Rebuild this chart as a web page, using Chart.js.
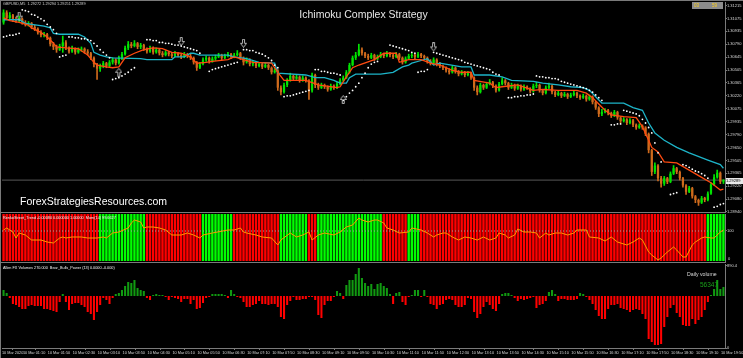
<!DOCTYPE html>
<html>
<head>
<meta charset="utf-8">
<script src="https://cdn.jsdelivr.net/npm/chart.js@4.4.1/dist/chart.umd.min.js"></script>
<style>
  html, body { margin: 0; padding: 0; background: #000; }
  #wrap { position: relative; width: 743px; height: 358px; background: #000; overflow: hidden;
          font-family: "Liberation Sans", Arial, sans-serif; }
  .pane { position: absolute; left: 0; width: 743px; }
  .txt  { position: absolute; white-space: nowrap; }
  .ln   { position: absolute; background: #7a7a7a; }
</style>
</head>
<body>
<div id="wrap">
  <div class="pane" style="top:0;height:213px"><canvas id="cMain"></canvas></div>
  <div class="pane" style="top:213px;height:49px"><canvas id="cTrend"></canvas></div>
  <div class="pane" style="top:263px;height:95px"><canvas id="cPower"></canvas></div>

  <!-- frame lines -->
  <div class="ln" style="left:0;top:0;width:743px;height:1px"></div>
  <div class="ln" style="left:0;top:0;width:1px;height:358px"></div>
  <div class="ln" style="left:0;top:212px;width:726px;height:1px"></div>
  <div class="ln" style="left:0;top:262px;width:726px;height:1px"></div>

  <div class="txt" style="left:3px;top:2px;font-size:3.8px;line-height:5px;color:#d0d0d0">GBPUSD,M5&nbsp;&nbsp;1.29272 1.29294 1.29251 1.29289</div>
  <div class="txt" style="left:0;width:727px;top:8px;text-align:center;font-size:10.5px;line-height:12px;color:#e6e6e6">Ichimoku Complex Strategy</div>
  <div class="txt" style="left:20px;top:195px;font-size:10.5px;line-height:12px;color:#ffffff">ForexStrategiesResources.com</div>
  <div class="txt" style="left:692px;top:2px;width:31px;height:7px;background:#8c8c8c"></div>
  <div class="txt" style="left:694px;top:2px;font-size:4.5px;line-height:7px;color:#ffd21e">03</div>
  <div class="txt" style="left:712px;top:2px;font-size:4.5px;line-height:7px;color:#ffd21e">59</div>
  <div class="txt" style="left:726px;top:178px;width:17px;height:6px;background:#e8e8e8;color:#000;font-size:4px;line-height:6px">1.29289</div>

  <div class="txt" style="left:3px;top:216px;font-size:3.8px;line-height:5px;color:#f0f0f0">RenkoStreet_Trend -0.00080 0.000000 1.00000&nbsp;&nbsp;Mom(14) 99.6627</div>
  <div class="txt" style="left:728px;top:256px;font-size:4px;line-height:5px;color:#d8d8d8">0</div>
  <div class="txt" style="left:3px;top:266px;font-size:3.8px;line-height:5px;color:#f0f0f0">Allen FX Volumes 270.000&nbsp;&nbsp;Bear_Bulls_Power (13) 0.0000 -0.000)</div>
  <div class="txt" style="left:687px;top:271px;font-size:5.2px;line-height:7px;color:#d8d8d8">Daily volume</div>
  <div class="txt" style="left:700px;top:280px;font-size:6.5px;line-height:9px;color:#1aa01a">56347</div>
</div>

<script>
// ── data ──────────────────────────────────────────────────────────────────
// GBPUSD M5, one entry per bar
const opens = [
  1.3103,1.3114,1.3108,1.3111,1.3107,1.3105,1.3107,1.3103,1.3101,1.3102,
  1.3098,1.3096,1.3092,1.3089,1.3090,1.3086,1.3079,1.3076,1.3073,1.3077,
  1.3081,1.3075,1.3071,1.3074,1.3070,1.3073,1.3074,1.3071,1.3069,1.3064,
  1.3057,1.3052,1.3055,1.3058,1.3055,1.3059,1.3062,1.3058,1.3064,1.3068,
  1.3075,1.3079,1.3077,1.3080,1.3076,1.3078,1.3074,1.3071,1.3075,1.3070,
  1.3073,1.3069,1.3067,1.3070,1.3068,1.3066,1.3069,1.3067,1.3065,1.3068,
  1.3066,1.3064,1.3059,1.3053,1.3057,1.3062,1.3064,1.3060,1.3063,1.3065,
  1.3067,1.3064,1.3066,1.3068,1.3065,1.3067,1.3069,1.3064,1.3059,1.3062,
  1.3057,1.3058,1.3055,1.3057,1.3054,1.3056,1.3053,1.3048,1.3050,1.3031,
  1.3026,1.3034,1.3039,1.3044,1.3041,1.3043,1.3039,1.3042,1.3039,1.3028,
  1.3045,1.3034,1.3031,1.3034,1.3032,1.3029,1.3033,1.3031,1.3035,1.3039,
  1.3042,1.3048,1.3056,1.3064,1.3067,1.3073,1.3069,1.3066,1.3064,1.3067,
  1.3063,1.3065,1.3068,1.3066,1.3069,1.3067,1.3065,1.3068,1.3064,1.3059,
  1.3063,1.3066,1.3067,1.3065,1.3068,1.3066,1.3064,1.3060,1.3058,1.3062,
  1.3057,1.3055,1.3053,1.3050,1.3048,1.3053,1.3049,1.3046,1.3048,1.3045,
  1.3047,1.3042,1.3031,1.3026,1.3034,1.3031,1.3035,1.3037,1.3033,1.3028,
  1.3035,1.3039,1.3036,1.3031,1.3034,1.3030,1.3033,1.3029,1.3032,1.3030,
  1.3027,1.3033,1.3034,1.3028,1.3025,1.3031,1.3033,1.3026,1.3023,1.3025,
  1.3022,1.3024,1.3021,1.3023,1.3025,1.3022,1.3020,1.3022,1.3018,1.3021,
  1.3015,1.3009,1.3002,1.3004,1.3006,1.3003,1.3000,1.3004,1.2998,1.2994,
  1.2996,1.2992,1.2995,1.2990,1.2987,1.2989,1.2987,1.2980,1.2962,1.2938,
  1.2945,1.2931,1.2925,1.2931,1.2927,1.2936,1.2942,1.2938,1.2931,1.2923,
  1.2916,1.2920,1.2911,1.2907,1.2904,1.2909,1.2907,1.2914,1.2924,1.2932,
  1.2937,1.29272
];
const highs = [
  1.3117,1.3116,1.3114,1.3112,1.3109,1.3110,1.3108,1.3105,1.3104,1.3103,
  1.3100,1.3097,1.3094,1.3092,1.3091,1.3087,1.3081,1.3078,1.3079,1.3088,
  1.3083,1.3076,1.3077,1.3075,1.3075,1.3076,1.3075,1.3073,1.3070,1.3065,
  1.3058,1.3057,1.3060,1.3059,1.3061,1.3064,1.3063,1.3066,1.3070,1.3077,
  1.3082,1.3081,1.3083,1.3081,1.3080,1.3079,1.3075,1.3077,1.3076,1.3075,
  1.3074,1.3071,1.3072,1.3071,1.3070,1.3071,1.3070,1.3068,1.3070,1.3069,
  1.3068,1.3065,1.3060,1.3059,1.3064,1.3066,1.3065,1.3065,1.3067,1.3069,
  1.3068,1.3068,1.3070,1.3069,1.3069,1.3072,1.3070,1.3065,1.3064,1.3063,
  1.3061,1.3059,1.3059,1.3058,1.3058,1.3057,1.3054,1.3052,1.3051,1.3033,
  1.3036,1.3041,1.3047,1.3045,1.3045,1.3044,1.3044,1.3043,1.3040,1.3047,
  1.3046,1.3036,1.3036,1.3035,1.3033,1.3035,1.3034,1.3037,1.3041,1.3044,
  1.3050,1.3058,1.3066,1.3070,1.3079,1.3075,1.3070,1.3068,1.3069,1.3068,
  1.3067,1.3070,1.3069,1.3071,1.3070,1.3068,1.3070,1.3069,1.3065,1.3065,
  1.3068,1.3069,1.3068,1.3070,1.3069,1.3067,1.3065,1.3062,1.3064,1.3063,
  1.3059,1.3056,1.3054,1.3052,1.3055,1.3054,1.3050,1.3050,1.3049,1.3049,
  1.3048,1.3043,1.3033,1.3036,1.3035,1.3037,1.3040,1.3038,1.3034,1.3037,
  1.3042,1.3040,1.3037,1.3036,1.3035,1.3035,1.3034,1.3034,1.3033,1.3031,
  1.3035,1.3037,1.3035,1.3029,1.3033,1.3036,1.3034,1.3027,1.3027,1.3026,
  1.3026,1.3025,1.3025,1.3027,1.3026,1.3023,1.3024,1.3023,1.3023,1.3022,
  1.3016,1.3010,1.3007,1.3008,1.3007,1.3004,1.3006,1.3005,1.2999,1.2998,
  1.2997,1.2997,1.2996,1.2991,1.2991,1.2990,1.2988,1.2981,1.2963,1.2948,
  1.2946,1.2933,1.2933,1.2932,1.2938,1.2945,1.2943,1.2939,1.2932,1.2924,
  1.2922,1.2921,1.2912,1.2908,1.2911,1.2910,1.2916,1.2926,1.2935,1.2940,
  1.2938,1.29294
];
const lows = [
  1.3101,1.3106,1.3107,1.3104,1.3103,1.3104,1.3101,1.3099,1.3099,1.3096,
  1.3094,1.3090,1.3087,1.3087,1.3084,1.3077,1.3073,1.3070,1.3072,1.3070,
  1.3073,1.3069,1.3070,1.3068,1.3069,1.3071,1.3069,1.3067,1.3062,1.3054,
  1.3040,1.3049,1.3053,1.3053,1.3054,1.3057,1.3056,1.3057,1.3062,1.3067,
  1.3073,1.3075,1.3076,1.3074,1.3074,1.3072,1.3069,1.3070,1.3068,1.3069,
  1.3067,1.3065,1.3066,1.3066,1.3064,1.3065,1.3065,1.3063,1.3064,1.3064,
  1.3062,1.3057,1.3050,1.3052,1.3056,1.3060,1.3058,1.3059,1.3061,1.3064,
  1.3062,1.3063,1.3065,1.3063,1.3064,1.3066,1.3062,1.3056,1.3058,1.3055,
  1.3055,1.3053,1.3054,1.3052,1.3053,1.3051,1.3046,1.3047,1.3028,1.3023,
  1.3025,1.3032,1.3038,1.3039,1.3040,1.3037,1.3038,1.3037,1.3018,1.3026,
  1.3031,1.3029,1.3030,1.3030,1.3027,1.3028,1.3029,1.3030,1.3034,1.3038,
  1.3041,1.3047,1.3055,1.3062,1.3066,1.3067,1.3064,1.3062,1.3063,1.3061,
  1.3062,1.3064,1.3064,1.3065,1.3065,1.3063,1.3064,1.3062,1.3057,1.3058,
  1.3062,1.3064,1.3063,1.3064,1.3064,1.3062,1.3058,1.3056,1.3057,1.3055,
  1.3053,1.3051,1.3048,1.3046,1.3047,1.3047,1.3044,1.3045,1.3043,1.3044,
  1.3040,1.3028,1.3023,1.3025,1.3029,1.3030,1.3034,1.3031,1.3026,1.3027,
  1.3034,1.3034,1.3029,1.3030,1.3028,1.3029,1.3027,1.3028,1.3029,1.3025,
  1.3026,1.3031,1.3026,1.3023,1.3024,1.3030,1.3024,1.3021,1.3022,1.3020,
  1.3021,1.3019,1.3020,1.3022,1.3020,1.3018,1.3019,1.3016,1.3017,1.3013,
  1.3007,1.2999,1.3000,1.3003,1.3001,1.2998,1.2999,1.2996,1.2992,1.2993,
  1.2990,1.2991,1.2988,1.2985,1.2986,1.2985,1.2978,1.2959,1.2934,1.2936,
  1.2928,1.2921,1.2923,1.2925,1.2926,1.2935,1.2936,1.2929,1.2921,1.2913,
  1.2915,1.2909,1.2904,1.2901,1.2903,1.2905,1.2906,1.2913,1.2923,1.2931,
  1.2925,1.29251
];
const closes = [
  1.3114,1.3108,1.3111,1.3107,1.3105,1.3107,1.3103,1.3101,1.3102,1.3098,
  1.3096,1.3092,1.3089,1.3090,1.3086,1.3079,1.3076,1.3073,1.3077,1.3081,
  1.3075,1.3071,1.3074,1.3070,1.3073,1.3074,1.3071,1.3069,1.3064,1.3057,
  1.3052,1.3055,1.3058,1.3055,1.3059,1.3062,1.3058,1.3064,1.3068,1.3075,
  1.3079,1.3077,1.3080,1.3076,1.3078,1.3074,1.3071,1.3075,1.3070,1.3073,
  1.3069,1.3067,1.3070,1.3068,1.3066,1.3069,1.3067,1.3065,1.3068,1.3066,
  1.3064,1.3059,1.3053,1.3057,1.3062,1.3064,1.3060,1.3063,1.3065,1.3067,
  1.3064,1.3066,1.3068,1.3065,1.3067,1.3069,1.3064,1.3059,1.3062,1.3057,
  1.3058,1.3055,1.3057,1.3054,1.3056,1.3053,1.3048,1.3050,1.3031,1.3026,
  1.3034,1.3039,1.3044,1.3041,1.3043,1.3039,1.3042,1.3039,1.3028,1.3045,
  1.3034,1.3031,1.3034,1.3032,1.3029,1.3033,1.3031,1.3035,1.3039,1.3042,
  1.3048,1.3056,1.3064,1.3067,1.3073,1.3069,1.3066,1.3064,1.3067,1.3063,
  1.3065,1.3068,1.3066,1.3069,1.3067,1.3065,1.3068,1.3064,1.3059,1.3063,
  1.3066,1.3067,1.3065,1.3068,1.3066,1.3064,1.3060,1.3058,1.3062,1.3057,
  1.3055,1.3053,1.3050,1.3048,1.3053,1.3049,1.3046,1.3048,1.3045,1.3047,
  1.3042,1.3031,1.3026,1.3034,1.3031,1.3035,1.3037,1.3033,1.3028,1.3035,
  1.3039,1.3036,1.3031,1.3034,1.3030,1.3033,1.3029,1.3032,1.3030,1.3027,
  1.3033,1.3034,1.3028,1.3025,1.3031,1.3033,1.3026,1.3023,1.3025,1.3022,
  1.3024,1.3021,1.3023,1.3025,1.3022,1.3020,1.3022,1.3018,1.3021,1.3015,
  1.3009,1.3002,1.3004,1.3006,1.3003,1.3000,1.3004,1.2998,1.2994,1.2996,
  1.2992,1.2995,1.2990,1.2987,1.2989,1.2987,1.2980,1.2962,1.2938,1.2945,
  1.2931,1.2925,1.2931,1.2927,1.2936,1.2942,1.2938,1.2931,1.2923,1.2916,
  1.2920,1.2911,1.2907,1.2904,1.2909,1.2907,1.2914,1.2924,1.2932,1.2937,
  1.2927,1.29289
];

// Ichimoku lines, read at their turning points: [bar, price]
const tenkan = [
  [0,1.3108],[2,1.3105],[5,1.3103],[8,1.3100],[9,1.3097],[12,1.3092],[14,1.3087],[16,1.3080],
  [17,1.3076],[20,1.3075],[24,1.3074],[27,1.3067],[29,1.3059],[30,1.3056],[33,1.3054],[35,1.3053],
  [37,1.3054],[39,1.3064],[42,1.3069],[45,1.3073],[48,1.3075],[51,1.3074],[54,1.3070],[57,1.3069],
  [60,1.3065],[62,1.3058],[65,1.3059],[67,1.3060],[72,1.3062],[74,1.3065],[77,1.3062],[80,1.3059],
  [86,1.3058],[88,1.3048],[90,1.3039],[97,1.3039],[101,1.3034],[107,1.3031],[108,1.3032],[110,1.3043],
  [112,1.3053],[114,1.3056],[119,1.3062],[122,1.3069],[126,1.3069],[127,1.3059],[130,1.3062],[134,1.3062],
  [137,1.3058],[140,1.3056],[144,1.3050],[147,1.3048],[150,1.3048],[151,1.3039],[156,1.3036],[158,1.3031],
  [160,1.3032],[165,1.3034],[170,1.3028],[173,1.3029],[178,1.3028],[184,1.3028],[187,1.3025],[189,1.3020],
  [191,1.3013],[193,1.3006],[195,1.3001],[199,1.2999],[203,1.2998],[205,1.2988],[207,1.2973],[208,1.2965],
  [210,1.2960],[212,1.2949],[216,1.2948],[220,1.2940],[224,1.2932],[227,1.2926],[230,1.2918],[231,1.2919]
];
const kijun = [
  [0,1.3106],[5,1.3106],[7,1.3102],[9,1.3101],[13,1.3099],[15,1.3097],[16,1.3091],[18,1.3090],
  [24,1.3090],[26,1.3087],[28,1.3080],[29,1.3070],[31,1.3067],[33,1.3065],[35,1.3064],[44,1.3063],
  [46,1.3062],[54,1.3062],[55,1.3065],[58,1.3065],[60,1.3069],[61,1.3069],[63,1.3067],[72,1.3067],
  [74,1.3065],[78,1.3063],[82,1.3059],[87,1.3058],[88,1.3047],[97,1.3045],[100,1.3042],[103,1.3042],
  [106,1.3039],[108,1.3036],[110,1.3036],[111,1.3042],[113,1.3046],[121,1.3046],[125,1.3048],[128,1.3054],
  [130,1.3056],[131,1.3058],[134,1.3061],[136,1.3063],[138,1.3056],[140,1.3058],[147,1.3054],[150,1.3054],
  [151,1.3045],[156,1.3045],[160,1.3043],[163,1.3039],[170,1.3038],[173,1.3036],[178,1.3034],[182,1.3032],
  [186,1.3031],[188,1.3028],[190,1.3021],[192,1.3014],[199,1.3014],[202,1.3009],[205,1.3006],[207,1.2992],
  [209,1.2981],[212,1.2973],[216,1.2965],[220,1.2959],[226,1.2951],[230,1.2946],[231,1.2942]
];

// Parabolic SAR dots: [bar, price]
const psar = [
  [0,1.3087],[1,1.3088],[2,1.3089],[3,1.3089],[4,1.3090],[5,1.3091],
  [6,1.3117],[7,1.3116],[8,1.3115],[9,1.3112],[10,1.3111],[11,1.3109],[12,1.3107],[13,1.3105],
  [14,1.3101],[15,1.3098],[16,1.3095],[17,1.3091],
  [18,1.3065],[19,1.3066],[20,1.3067],
  [21,1.3087],[22,1.3087],[23,1.3086],[24,1.3086],[25,1.3085],[26,1.3085],[27,1.3084],[28,1.3083],
  [29,1.3080],[30,1.3077],[31,1.3073],[32,1.3070],[33,1.3067],[34,1.3064],
  [35,1.3040],[36,1.3041],[37,1.3042],[38,1.3044],[39,1.3046],[40,1.3048],[41,1.3051],[42,1.3053],
  [46,1.3084],[47,1.3084],[48,1.3083],[49,1.3083],[50,1.3081],[51,1.3081],[52,1.3080],[53,1.3080],
  [54,1.3079],[55,1.3078],[56,1.3078],[57,1.3077],[58,1.3076],[59,1.3075],[60,1.3074],[61,1.3073],
  [62,1.3072],[63,1.3069],
  [66,1.3049],[67,1.3051],[68,1.3052],[69,1.3053],[70,1.3054],[71,1.3055],[72,1.3056],[73,1.3057],
  [74,1.3058],[75,1.3059],
  [77,1.3073],[78,1.3073],[79,1.3072],[80,1.3072],[81,1.3070],[82,1.3069],[83,1.3068],[84,1.3066],
  [85,1.3064],[86,1.3061],[87,1.3056],[88,1.3053],
  [90,1.3021],[91,1.3022],[92,1.3022],[93,1.3023],[94,1.3024],[95,1.3025],[96,1.3026],[97,1.3027],[98,1.3028],
  [100,1.3051],[101,1.3051],[102,1.3049],[103,1.3049],[104,1.3048],[105,1.3047],[106,1.3047],[107,1.3046],[108,1.3045],
  [109,1.3017],[110,1.3021],[111,1.3025],[112,1.3028],[113,1.3032],[114,1.3036],[115,1.3042],[116,1.3047],
  [117,1.3053],[118,1.3057],[119,1.3059],[120,1.3060],
  [124,1.3078],[125,1.3077],[126,1.3076],[127,1.3075],[128,1.3074],[129,1.3073],[130,1.3072],[131,1.3070],[132,1.3069],
  [133,1.3048],[134,1.3049],[135,1.3049],[136,1.3051],
  [138,1.3070],[139,1.3069],[140,1.3068],[141,1.3067],[142,1.3066],[143,1.3065],[144,1.3064],[145,1.3063],
  [146,1.3062],[147,1.3061],[148,1.3059],[149,1.3058],[150,1.3057],[151,1.3056],[152,1.3055],[153,1.3054],
  [154,1.3053],[155,1.3052],[156,1.3051],[157,1.3048],[158,1.3046],[159,1.3045],
  [162,1.3020],[163,1.3020],[164,1.3021],[165,1.3021],[166,1.3022],[167,1.3022],[168,1.3023],[169,1.3023],[170,1.3024],
  [171,1.3044],[172,1.3043],[173,1.3043],[174,1.3042],[175,1.3042],[176,1.3041],[177,1.3041],[178,1.3040],
  [179,1.3038],[180,1.3037],[181,1.3036],[182,1.3035],[183,1.3034],[184,1.3033],[185,1.3032],[186,1.3031],
  [187,1.3030],[188,1.3028],[189,1.3026],[190,1.3023],[191,1.3020],[192,1.3017],
  [195,1.2990],[196,1.2990],[197,1.2991],[198,1.2991],
  [199,1.3006],[200,1.3005],[201,1.3004],[202,1.3003],[203,1.3002],[204,1.3000],[205,1.2996],[206,1.2992],
  [207,1.2987],[208,1.2981],[209,1.2970],[210,1.2959],[211,1.2949],
  [214,1.2913],[215,1.2914],[216,1.2915],
  [218,1.2946],[219,1.2945],[220,1.2943],[221,1.2941],[222,1.2939],[223,1.2938],[224,1.2936],[225,1.2934],[226,1.2931],
  [228,1.2899],[229,1.2900],[230,1.2902],[231,1.2903]
];

// signal arrows: [bar, price]
const arrowsDown = [[5,1.3110],[57,1.3082],[77,1.3080],[138,1.3076]];
const arrowsUp   = [[37,1.3048],[109,1.3018]];

// RenkoStreet_Trend runs: [bars, direction]
const trendRuns = [
  [31,'down'],[15,'up'],[18,'down'],[10,'up'],[15,'down'],[9,'up'],[3,'down'],
  [21,'up'],[8,'down'],[4,'up'],[92,'down'],[6,'up']
];
// Mom(14): [bar, value]
const momentum = [
  [0,100.05],[1,100.15],[3,99.95],[4,99.65],[5,99.9],[7,99.8],[9,99.55],[12,99.55],[14,99.45],
  [16,99.4],[18,99.65],[19,99.7],[20,99.65],[22,99.7],[25,99.7],[27,99.65],[30,99.65],[32,99.7],
  [33,99.65],[35,99.9],[37,99.95],[40,100.15],[41,100.4],[42,100.55],[44,100.45],[45,100.15],[46,100.2],
  [48,100.2],[50,100.15],[52,100.05],[54,99.8],[57,99.8],[59,99.9],[61,99.8],[63,99.65],[64,99.8],
  [67,99.9],[72,100.05],[74,100.05],[76,100.15],[77,99.95],[78,99.9],[81,99.8],[83,99.7],[86,99.65],
  [88,99.3],[89,99.55],[92,99.9],[94,99.7],[96,99.8],[98,99.95],[99,99.55],[101,99.8],[103,99.9],
  [106,99.8],[108,99.95],[110,100.2],[112,100.3],[114,100.65],[115,100.55],[117,100.45],[119,100.55],
  [120,100.55],[122,100.4],[123,100.15],[125,100.05],[127,99.9],[130,99.95],[131,100.15],[134,100.05],
  [136,99.9],[138,99.7],[139,99.8],[141,99.9],[142,99.9],[144,99.7],[146,99.55],[148,99.7],[150,99.65],
  [152,99.55],[154,99.7],[156,99.55],[158,99.65],[159,99.9],[161,99.8],[162,99.65],[164,99.8],
  [165,100.1],[167,99.95],[169,99.95],[171,99.9],[172,99.65],[174,99.9],[175,99.8],[177,99.9],
  [179,99.9],[181,99.8],[183,99.9],[184,100.05],[187,100.05],[188,99.7],[191,99.65],[193,99.5],
  [195,99.7],[197,99.45],[200,99.3],[202,99.45],[204,99.65],[205,99.55],[207,98.95],[208,98.8],
  [210,98.55],[211,98.65],[213,98.95],[215,99.2],[216,99.05],[218,98.7],[219,98.7],[221,99.3],
  [222,99.45],[224,99.65],[225,99.7],[227,99.65],[228,99.65],[230,99.95],[231,100.05]
];

// Bear_Bulls_Power histogram, one entry per bar
const powerHist = [
  6,3,-2,-8,-9,-11,-13,-13,-10,-9, -10,-10,-10,-13,-13,-14,-15,-16,-6,2,
  -6,-14,-8,-7,-7,-9,-11,-16,-18,-24, -16,-9,-2,-4,-8,-2,2,3,6,10,
  14,13,16,8,6,5,-2,-4,1,2, 1,1,-1,-4,-1,-2,-3,-6,-3,-3,
  -8,-4,-13,-12,-7,-2,-1,2,2,2, 2,1,-2,6,2,-1,-2,-6,-11,-11,
  -9,-8,-5,-8,-8,-9,-8,-8,-11,-21, -23,-9,-5,-1,-4,-4,-3,-3,-1,-1,
  -4,-19,-22,-9,-5,-5,-1,5,3,-3, 11,16,16,22,28,18,13,10,12,7,
  12,13,10,8,2,-8,3,4,-6,-9, -1,1,6,6,-1,6,-1,-8,-9,-13,
  -9,-8,-4,-3,-4,-9,-11,-11,-9,-2, -3,-16,-22,-18,-11,-6,-9,
  -13,-15,-8,2,3,3,1,-2,-5,-3, -4,-3,-2,-1,-12,-9,-8,-5,4,6,
  2,-5,-3,-3,-4,-4,-4,-3,3,2, -1,-4,-8,-14,-20,-23,-23,-13,-9,-9,
  -8,-12,-13,-14,-16,-14,-13,-14,-18,-23, -43,-46,-49,-49,-48,-31,-21,-12,-9,-17,
  -21,-29,-30,-30,-23,-28,-24,-21,-14,-6, 1,7,16,7,9
];

// axis labels
const priceTicks = [1.31215,1.31075,1.30935,1.30790,1.30645,1.30505,1.30365,1.30220,1.30075,
                    1.29935,1.29790,1.29650,1.29505,1.29365,1.29220,1.29080,1.28940];
const timeLabels = ['10 Mar 2020','10 Mar 01:10','10 Mar 01:50','10 Mar 02:30','10 Mar 03:10','10 Mar 03:50',
  '10 Mar 04:30','10 Mar 05:10','10 Mar 05:50','10 Mar 06:30','10 Mar 07:10','10 Mar 07:50','10 Mar 08:30',
  '10 Mar 09:10','10 Mar 09:50','10 Mar 10:30','10 Mar 11:10','10 Mar 11:50','10 Mar 12:30','10 Mar 13:10',
  '10 Mar 13:50','10 Mar 14:30','10 Mar 15:10','10 Mar 15:50','10 Mar 16:30','10 Mar 17:10','10 Mar 17:50',
  '10 Mar 18:30','10 Mar 19:10','10 Mar 19:50'];

// ── look ──────────────────────────────────────────────────────────────────
const BULL = '#00e400';
const BEAR = '#cf6a1c';
const AXIS_COLOR = '#7a7a7a';
const TICK_COLOR = '#d8d8d8';

Chart.defaults.animation = false;
Chart.defaults.font.family = '"Liberation Sans", Arial, sans-serif';
Chart.defaults.plugins.legend.display = false;
Chart.defaults.plugins.tooltip.enabled = false;
Chart.defaults.layout.autoPadding = false;

const N      = closes.length;
const barIdx = closes.map((_, i) => i);
const pts    = arr => arr.map(([x, y]) => ({ x, y }));

function fixRight(scale) { scale.width = 18; scale.paddingTop = 0; scale.paddingBottom = 0; }
const xHidden = { type: 'linear', min: -0.5, max: N - 0.5, offset: false, display: false };
function axisRight(extra) {
  return Object.assign({
    position: 'right', afterFit: fixRight,
    grid:   { drawOnChartArea: false, tickLength: 2, color: AXIS_COLOR },
    border: { color: AXIS_COLOR },
    ticks:  { color: TICK_COLOR, font: { size: 4 }, padding: 0, autoSkip: false }
  }, extra);
}

function arrowIcon(down) {
  const c = document.createElement('canvas');
  c.width = 7; c.height = 9;
  const g = c.getContext('2d');
  if (!down) { g.translate(0, 9); g.scale(1, -1); }
  g.strokeStyle = '#b4b4b4'; g.lineWidth = 1;
  g.beginPath();
  g.moveTo(2.5, 0.5); g.lineTo(4.5, 0.5); g.lineTo(4.5, 4.5); g.lineTo(6.5, 4.5);
  g.lineTo(3.5, 8.5); g.lineTo(0.5, 4.5); g.lineTo(2.5, 4.5); g.closePath();
  g.stroke();
  return c;
}

const candleColor = barIdx.map(i => closes[i] >= opens[i] ? BULL : BEAR);

// ── main window ───────────────────────────────────────────────────────────
new Chart(document.getElementById('cMain'), {
  type: 'bar',
  data: {
    labels: barIdx,
    datasets: [
      { type: 'line', data: pts(arrowsDown), showLine: false, pointStyle: arrowIcon(true),  pointRadius: 4, order: 0 },
      { type: 'line', data: pts(arrowsUp),   showLine: false, pointStyle: arrowIcon(false), pointRadius: 4, order: 0 },
      { type: 'line', data: pts(psar), showLine: false, pointRadius: 0.9, pointBackgroundColor: '#ffffff',
        pointBorderWidth: 0, order: 1 },
      { type: 'line', data: pts(tenkan), borderColor: '#ff4a10', borderWidth: 1.3, pointRadius: 0, order: 2 },
      { type: 'line', data: pts(kijun),  borderColor: '#1db4c8', borderWidth: 1.3, pointRadius: 0, order: 2 },
      { type: 'line', data: [{ x: -0.5, y: closes[N - 1] }, { x: N - 0.5, y: closes[N - 1] }],
        borderColor: '#585858', borderWidth: 1, pointRadius: 0, order: 6 },
      { data: barIdx.map(i => [lows[i], highs[i]]), backgroundColor: candleColor,
        barThickness: 1, grouped: false, order: 4 },
      { data: barIdx.map(i => [opens[i], closes[i]]), backgroundColor: candleColor,
        barPercentage: 0.72, categoryPercentage: 1, minBarLength: 1, grouped: false, order: 3 }
    ]
  },
  options: {
    responsive: true, maintainAspectRatio: false, events: [],
    layout: { padding: { left: 2, right: 0, top: 2, bottom: 1 } },
    scales: {
      x: xHidden,
      y: axisRight({
        min: 1.28937, max: 1.31256,
        afterBuildTicks: s => { s.ticks = priceTicks.map(v => ({ value: v })); },
        ticks: { color: TICK_COLOR, font: { size: 4 }, padding: 0, autoSkip: false, callback: v => v.toFixed(5) }
      })
    }
  }
});

// ── RenkoStreet_Trend + Mom window ───────────────────────────────────────
const trendDir = trendRuns.flatMap(([n, d]) => Array(n).fill(d));
new Chart(document.getElementById('cTrend'), {
  type: 'bar',
  data: {
    labels: barIdx,
    datasets: [
      { type: 'line', data: pts(momentum), borderColor: '#ff9a00', borderWidth: 1, pointRadius: 0, yAxisID: 'y', order: 0 },
      { type: 'line', data: [{ x: -0.5, y: 100 }, { x: N - 0.5, y: 100 }], borderColor: '#a0a0a0',
        borderDash: [1, 2], borderWidth: 1, pointRadius: 0, yAxisID: 'y', order: 1 },
      { data: trendDir.map(() => [0, 1]), backgroundColor: trendDir.map(d => d === 'up' ? '#00ff00' : '#ff0000'),
        barPercentage: 0.78, categoryPercentage: 1, grouped: false, yAxisID: 'yT', order: 2 }
    ]
  },
  options: {
    responsive: true, maintainAspectRatio: false, events: [],
    layout: { padding: { left: 2, right: 0, top: 1, bottom: 1 } },
    scales: {
      x: xHidden,
      yT: { min: 0, max: 1, display: false },
      y: axisRight({
        min: 98.5, max: 100.85,
        afterBuildTicks: s => { s.ticks = [{ value: 100 }]; }
      })
    }
  }
});

// ── Bear_Bulls_Power window ──────────────────────────────────────────────
new Chart(document.getElementById('cPower'), {
  type: 'bar',
  data: {
    labels: barIdx,
    datasets: [
      { data: powerHist, backgroundColor: powerHist.map(v => v >= 0 ? '#119a11' : '#ff0000'),
        barPercentage: 0.66, categoryPercentage: 1, grouped: false, yAxisID: 'yP' }
    ]
  },
  options: {
    responsive: true, maintainAspectRatio: false, events: [],
    layout: { padding: { left: 2, right: 0, top: 1, bottom: 0 } },
    scales: {
      x: {
        type: 'linear', min: -0.5, max: N - 0.5, offset: false, position: 'bottom',
        afterBuildTicks: s => { s.ticks = timeLabels.map((_, k) => ({ value: k === 0 ? -0.5 : k * 8 - 1.8 })); },
        afterFit: s => { s.height = 10; s.paddingLeft = 0; s.paddingRight = 0; },
        grid:   { drawOnChartArea: false, tickLength: 2, color: AXIS_COLOR },
        border: { color: AXIS_COLOR },
        ticks:  { color: TICK_COLOR, font: { size: 3.8 }, padding: 1, autoSkip: false, maxRotation: 0,
                  align: 'start', callback: (v, k) => timeLabels[k] }
      },
      yP: { min: -52, max: 32, display: false },
      yV: axisRight({
        min: 0, max: 912,
        afterBuildTicks: s => { s.ticks = [{ value: 890.4 }, { value: 0 }]; }
      })
    }
  }
});
</script>
</body>
</html>
